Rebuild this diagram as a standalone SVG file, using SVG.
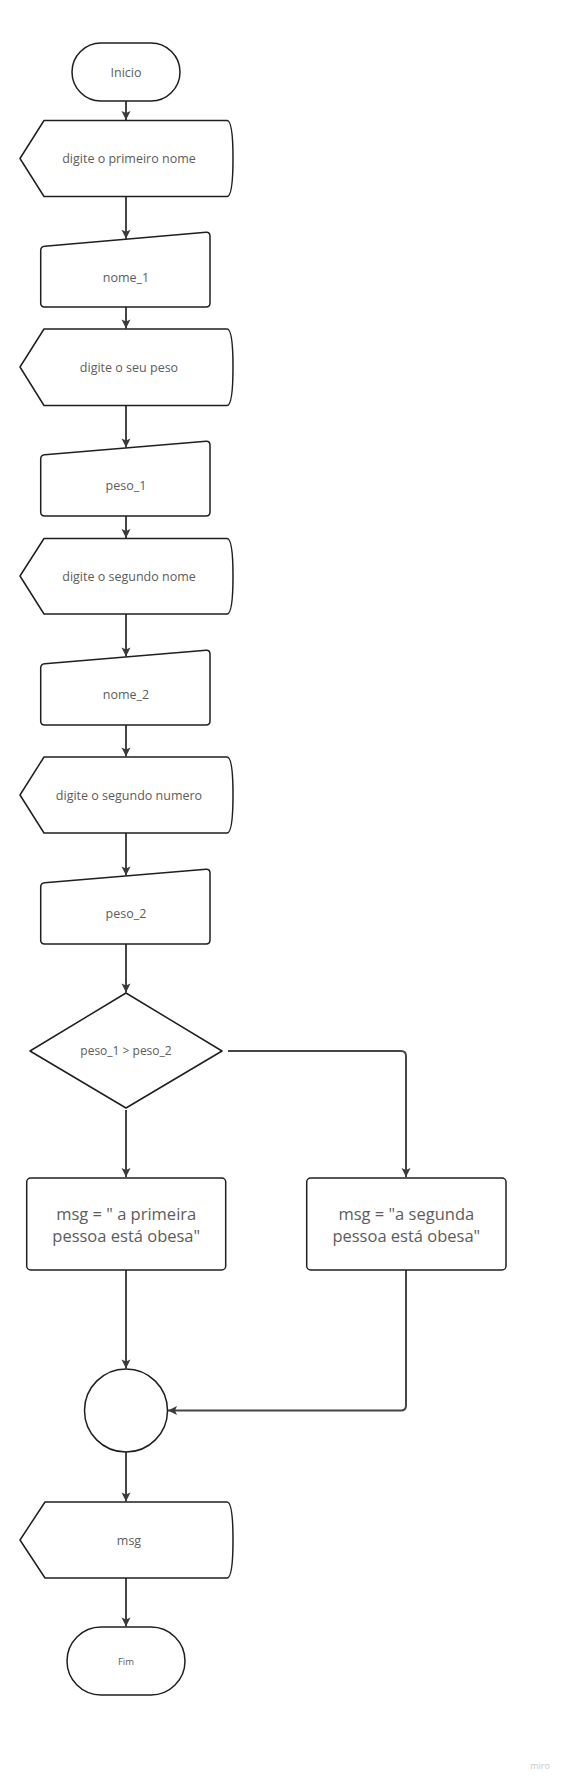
<svg xmlns="http://www.w3.org/2000/svg" width="561" height="1781" viewBox="0 0 561 1781">
<style>
.shape{fill:#ffffff;stroke:#1f1f1f;stroke-width:1.5;stroke-linejoin:round}
.conn{fill:none;stroke:#454545;stroke-width:2}
.t{font-family:"Open Sans","Noto Sans","Liberation Sans",sans-serif;fill:#5c5c5c;text-anchor:middle;dominant-baseline:central}
.s{font-size:12.5px}
.b{font-size:16.5px}
</style>
<defs>
<marker id="ah" markerUnits="userSpaceOnUse" markerWidth="12" markerHeight="12" viewBox="0 0 12 12" refX="10" refY="6" orient="auto">
<path d="M1,1.5 L10,6 L1,10.5 L3,6 Z" fill="#3a3a3a"/>
</marker>
</defs>
<rect width="561" height="1781" fill="#ffffff"/>
<g id="connectors">
<path class="conn" d="M126,101 V120" marker-end="url(#ah)"/>
<path class="conn" d="M126,196.5 V238.8" marker-end="url(#ah)"/>
<path class="conn" d="M126,307 V328.5" marker-end="url(#ah)"/>
<path class="conn" d="M126,405.5 V447.5" marker-end="url(#ah)"/>
<path class="conn" d="M126,516 V538" marker-end="url(#ah)"/>
<path class="conn" d="M126,614 V656.5" marker-end="url(#ah)"/>
<path class="conn" d="M126,725 V756.5" marker-end="url(#ah)"/>
<path class="conn" d="M126,833 V875.5" marker-end="url(#ah)"/>
<path class="conn" d="M126,944 V992.5" marker-end="url(#ah)"/>
<path class="conn" d="M126,1110 V1177" marker-end="url(#ah)"/>
<path class="conn" d="M228,1051 H401 Q406,1051 406,1056 V1177" marker-end="url(#ah)"/>
<path class="conn" d="M126,1270 V1368.5" marker-end="url(#ah)"/>
<path class="conn" d="M406,1270 V1405.5 Q406,1410.5 401,1410.5 H168" marker-end="url(#ah)"/>
<path class="conn" d="M126,1452 V1501.5" marker-end="url(#ah)"/>
<path class="conn" d="M126,1578 V1626.5" marker-end="url(#ah)"/>
</g>
<g id="inicio">
<rect class="shape" x="72" y="43" width="108" height="58" rx="29" ry="29"/>
<text class="t s" x="126" y="72">Inicio</text>
</g>
<g id="display1">
<path class="shape" d="M20,158.5 L44,120.5 L227,120.5 C231,120.5 233,135 233,158.5 C233,182 231,196.5 227,196.5 L44,196.5 Z"/>
<text class="t s" x="129" y="158.5">digite o primeiro nome</text>
</g>
<g id="nome1">
<path class="shape" d="M40.7,250.5 Q40.7,246.5 44.7,246.2 L206,232.3 Q210,232 210,236 L210,303 Q210,307 206,307 L44.7,307 Q40.7,307 40.7,303 Z"/>
<text class="t s" x="126" y="277">nome_1</text>
</g>
<g id="display2">
<path class="shape" d="M20,367 L44,329 L227,329 C231,329 233,343.5 233,367 C233,390.5 231,405.5 227,405.5 L44,405.5 Z"/>
<text class="t s" x="129" y="367">digite o seu peso</text>
</g>
<g id="peso1">
<path class="shape" d="M40.7,459 Q40.7,455 44.7,454.7 L206,441.3 Q210,441 210,445 L210,512 Q210,516 206,516 L44.7,516 Q40.7,516 40.7,512 Z"/>
<text class="t s" x="126" y="485">peso_1</text>
</g>
<g id="display3">
<path class="shape" d="M20,576 L44,538.5 L227,538.5 C231,538.5 233,553 233,576 C233,599 231,614 227,614 L44,614 Z"/>
<text class="t s" x="129" y="576">digite o segundo nome</text>
</g>
<g id="nome2">
<path class="shape" d="M40.7,668 Q40.7,664 44.7,663.7 L206,650.3 Q210,650 210,654 L210,721 Q210,725 206,725 L44.7,725 Q40.7,725 40.7,721 Z"/>
<text class="t s" x="126" y="694">nome_2</text>
</g>
<g id="display4">
<path class="shape" d="M20,795 L44,757 L227,757 C231,757 233,771.5 233,795 C233,818.5 231,833 227,833 L44,833 Z"/>
<text class="t s" x="129" y="795">digite o segundo numero</text>
</g>
<g id="peso2">
<path class="shape" d="M40.7,887 Q40.7,883 44.7,882.7 L206,869.3 Q210,869 210,873 L210,940 Q210,944 206,944 L44.7,944 Q40.7,944 40.7,940 Z"/>
<text class="t s" x="126" y="913">peso_2</text>
</g>
<g id="decision">
<polygon class="shape" points="126,993 222,1051 126,1108 30,1051"/>
<text class="t" style="font-size:12px" x="126" y="1050">peso_1 &gt; peso_2</text>
</g>
<g id="msg1">
<rect class="shape" x="26.7" y="1178" width="199" height="92" rx="4" ry="4"/>
<text class="t b" x="126.2" y="1213">msg = " a primeira</text>
<text class="t b" x="126.2" y="1235">pessoa está obesa"</text>
</g>
<g id="msg2">
<rect class="shape" x="306.7" y="1178" width="199.3" height="92" rx="4" ry="4"/>
<text class="t b" x="406.3" y="1213">msg = "a segunda</text>
<text class="t b" x="406.3" y="1235">pessoa está obesa"</text>
</g>
<g id="merge">
<circle class="shape" cx="126" cy="1410.5" r="41.5"/>
</g>
<g id="display5">
<path class="shape" d="M20,1540 L45,1502 L227,1502 C231,1502 233,1516.5 233,1540 C233,1563.5 231,1578 227,1578 L45,1578 Z"/>
<text class="t s" x="129" y="1540">msg</text>
</g>
<g id="fim">
<rect class="shape" x="67" y="1627" width="118" height="68" rx="34" ry="34"/>
<text class="t" style="font-size:9.5px" x="126" y="1661">Fim</text>
</g>
<text class="t" style="font-size:9px;fill:#c8c8c8" x="540" y="1765">miro</text>
</svg>
